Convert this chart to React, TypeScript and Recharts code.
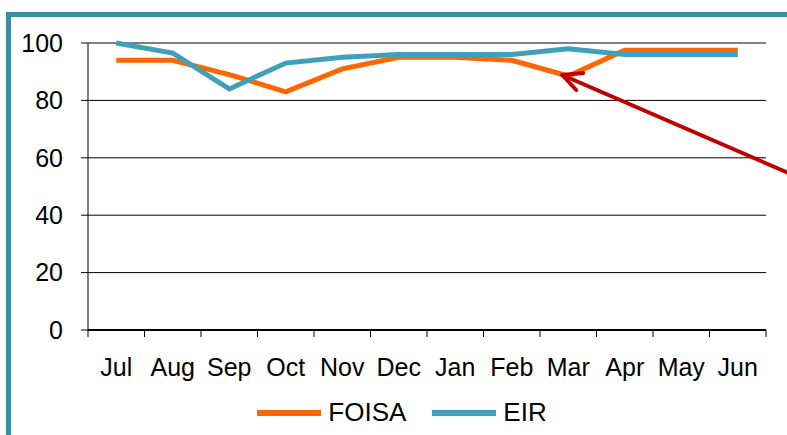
import { LineChart, Line, XAxis, YAxis, CartesianGrid, Legend, ReferenceDot } from "recharts";

const months = ["Jul", "Aug", "Sep", "Oct", "Nov", "Dec", "Jan", "Feb", "Mar", "Apr", "May", "Jun"];
const foisa = [94, 94, 89, 83, 91, 95, 95, 94, 88.5, 97.5, 97.5, 97.5];
const eir = [100, 96.5, 84, 93, 95, 96, 96, 96, 98, 96, 96, 96];
const yTicks = [0, 20, 40, 60, 80, 100];

const data = months.map((m, i) => ({ month: m, FOISA: foisa[i], EIR: eir[i] }));

const W = 787;
const H = 435;
const LEFT = 88;
const RIGHT = 21;
const halfBand = (W - LEFT - RIGHT) / months.length / 2;
const font = "'Liberation Sans', Arial, sans-serif";
const colors = { FOISA: "#FF6600", EIR: "#3FA0BA" };
const frame = "#3A8CA0";

// tick y arrives offset below the axis line by tickSize + tickMargin (~8px)
const MonthTick = (props: any) => {
  const { x, y, payload, index } = props;
  const last = index === months.length - 1;
  const ay = y - 8;
  return (
    <g>
      <line x1={x - halfBand} y1={ay} x2={x - halfBand} y2={ay + 7} stroke="#000" />
      {last && <line x1={x + halfBand} y1={ay} x2={x + halfBand} y2={ay + 7} stroke="#000" />}
      <text x={x} y={ay + 28} dy="0.71em" textAnchor="middle" fill="#000" fontSize={25} fontFamily={font}>
        {payload.value}
      </text>
    </g>
  );
};

const Arrow = (props: any) => {
  const { cx, cy } = props;
  const tx = cx - 6;
  const ty = cy - 1;
  return (
    <g>
      <line x1={tx} y1={ty} x2={tx + 270} y2={ty + 117} stroke="#C00000" strokeWidth={4} />
      <line x1={tx} y1={ty} x2={tx + 21} y2={ty - 2} stroke="#C00000" strokeWidth={4} strokeLinecap="round" />
      <line x1={tx} y1={ty} x2={tx + 14} y2={ty + 15} stroke="#C00000" strokeWidth={4} strokeLinecap="round" />
    </g>
  );
};

const LegendContent = () => (
  <div style={{ height: 45, display: "flex", justifyContent: "center", alignItems: "center", paddingLeft: 38, fontFamily: font, fontSize: 26, color: "#000" }}>
    {(["FOISA", "EIR"] as const).map((k, i) => (
      <div key={k} style={{ display: "flex", alignItems: "center", marginLeft: i ? 26 : 0 }}>
        <div style={{ width: 64, height: 6, background: colors[k], marginRight: 7 }} />
        <span>{k}</span>
      </div>
    ))}
  </div>
);

export default function App() {
  return (
    <div style={{ position: "absolute", left: 0, top: 0, width: W, height: H, background: "#fff", overflow: "hidden" }}>
      <div style={{ position: "absolute", left: 6, top: 12, width: W, height: 5, background: frame }} />
      <div style={{ position: "absolute", left: 6, top: 12, width: 5, height: H, background: frame }} />
      <div style={{ position: "absolute", left: 0, top: 0 }}>
        <LineChart width={W} height={H} data={data} margin={{ top: 43, right: RIGHT, left: 0, bottom: 0 }}>
          <CartesianGrid vertical={false} stroke="#000" strokeOpacity={1} />
          <XAxis
            dataKey="month"
            scale="band"
            height={60}
            axisLine={{ stroke: "#000", strokeWidth: 2 }}
            tickLine={false}
            tick={<MonthTick />}
            interval={0}
          />
          <YAxis
            width={LEFT}
            domain={[0, 100]}
            ticks={yTicks}
            tickSize={7}
            tickMargin={18}
            axisLine={{ stroke: "#000" }}
            tickLine={{ stroke: "#000" }}
            tick={{ fill: "#000", fontSize: 25, fontFamily: font }}
          />
          <Legend verticalAlign="bottom" height={45} content={<LegendContent />} />
          <Line type="linear" dataKey="FOISA" stroke={colors.FOISA} strokeWidth={5} dot={false} isAnimationActive={false} />
          <Line type="linear" dataKey="EIR" stroke={colors.EIR} strokeWidth={5} dot={false} isAnimationActive={false} />
          <ReferenceDot x="Mar" y={foisa[8]} shape={<Arrow />} ifOverflow="visible" />
        </LineChart>
      </div>
    </div>
  );
}
